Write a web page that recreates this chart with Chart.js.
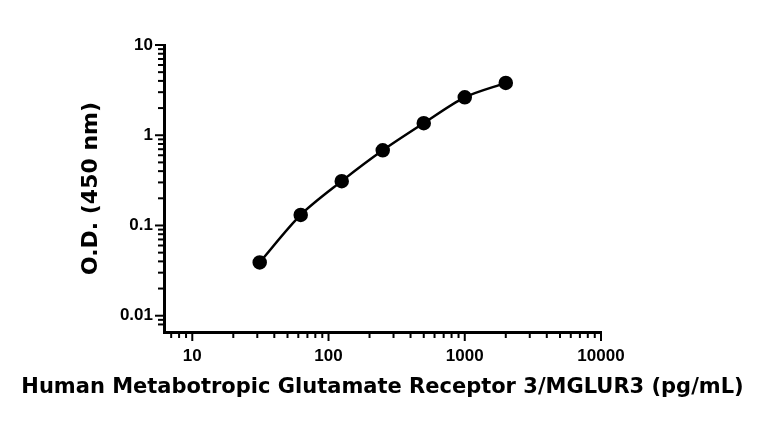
<!DOCTYPE html>
<html lang="en">
<head>
  <meta charset="UTF-8">
  <title>MGLUR3 standard curve</title>
  <script src="https://cdn.jsdelivr.net/npm/chart.js"></script>
  <style>
    body {
      margin: 0;
      background-color: #ffffff;
    }
    #wrap {
      width: 768px;
      height: 421px;
      position: relative;
    }
  </style>
</head>
<body>
  <div id="wrap"><canvas id="curveChart"></canvas></div>
  <script>
    // standard curve points
    const concentrations = [31.25, 62.5, 125, 250, 500, 1000, 2000];
    const odValues = [0.039, 0.131, 0.31, 0.68, 1.36, 2.63, 3.8];

    // labelled ticks
    const xTickLabels = ['10', '100', '1000', '10000'];
    const yTickLabels = ['0.01', '0.1', '1', '10'];

    const xTitle = 'Human Metabotropic Glutamate Receptor 3/MGLUR3 (pg/mL)';
    const yTitle = 'O.D. (450 nm)';

    const isDecade = v => Math.abs(Math.log10(v) - Math.round(Math.log10(v))) < 1e-6;

    // keep only the 1..9 x 10^n ticks (drop the odd axis minimum)
    function keepWholeTicks(scale) {
      scale.ticks = scale.ticks.filter(t => {
        const e = Math.floor(Math.log10(t.value) + 1e-9);
        const s = t.value / Math.pow(10, e);
        return Math.abs(s - Math.round(s)) < 1e-6;
      });
    }

    const titleFamily = '"DejaVu Sans", sans-serif';

    // outward tick marks (long on decades) + the wide x title,
    // which chart.js would squeeze into the plot width
    const axisExtras = {
      id: 'axisExtras',
      afterDraw(chart) {
        const ctx = chart.ctx;
        const xs = chart.scales.x, ys = chart.scales.y;
        const area = chart.chartArea;
        ctx.save();
        ctx.strokeStyle = '#000';
        ctx.lineWidth = 2;
        xs.ticks.forEach(t => {
          const px = xs.getPixelForValue(t.value);
          const len = isDecade(t.value) ? 8 : 5;
          ctx.beginPath();
          ctx.moveTo(px, area.bottom + 1);
          ctx.lineTo(px, area.bottom + 1 + len);
          ctx.stroke();
        });
        ys.ticks.forEach(t => {
          const py = ys.getPixelForValue(t.value);
          const len = isDecade(t.value) ? 8 : 5;
          ctx.beginPath();
          ctx.moveTo(area.left - 1, py);
          ctx.lineTo(area.left - 1 - len, py);
          ctx.stroke();
        });

        ctx.fillStyle = '#000';
        ctx.font = 'bold 21px ' + titleFamily;
        ctx.textAlign = 'center';
        ctx.textBaseline = 'middle';
        ctx.fillText(xTitle, (area.left + area.right) / 2, xs.bottom - 33);
        ctx.restore();
      }
    };

    const tickFont = { family: 'Arial, "Liberation Sans", sans-serif', size: 17, weight: 'bold' };

    const ctx = document.getElementById('curveChart').getContext('2d');

    new Chart(ctx, {
      type: 'line',
      data: {
        datasets: [{
          data: concentrations.map((c, i) => ({ x: c, y: odValues[i] })),
          borderColor: '#000',
          borderWidth: 2.5,
          backgroundColor: '#000',
          pointBackgroundColor: '#000',
          pointBorderColor: '#000',
          pointRadius: 6,
          tension: 0.3,
          fill: false
        }]
      },
      options: {
        responsive: true,
        maintainAspectRatio: false,
        animation: false,
        devicePixelRatio: 1,
        layout: {
          padding: { top: 45, right: 167, bottom: 0, left: 0 }
        },
        scales: {
          x: {
            type: 'logarithmic',
            min: 6.2,
            max: 10000,
            afterBuildTicks: keepWholeTicks,
            afterFit: s => { s.height = 89; },
            grid: { display: false, drawTicks: false },
            border: { display: true, color: '#000', width: 3 },
            ticks: {
              autoSkip: false,
              maxRotation: 0,
              padding: 14,
              color: '#000',
              font: tickFont,
              callback: v => xTickLabels.includes(String(v)) ? String(v) : ''
            },
            title: { display: false }
          },
          y: {
            type: 'logarithmic',
            min: 0.0066,
            max: 10,
            afterBuildTicks: keepWholeTicks,
            afterFit: s => { s.width = 164; },
            grid: { display: false, drawTicks: false },
            border: { display: true, color: '#000', width: 3 },
            ticks: {
              autoSkip: false,
              padding: 11,
              color: '#000',
              font: tickFont,
              callback: v => yTickLabels.includes(String(v)) ? String(v) : ''
            },
            title: {
              display: true,
              text: yTitle,
              color: '#000',
              font: { family: titleFamily, size: 22, weight: 'bold' },
              padding: { top: 78, bottom: 0 }
            }
          }
        },
        plugins: {
          legend: { display: false },
          tooltip: { enabled: false }
        }
      },
      plugins: [axisExtras]
    });
  </script>
</body>
</html>
